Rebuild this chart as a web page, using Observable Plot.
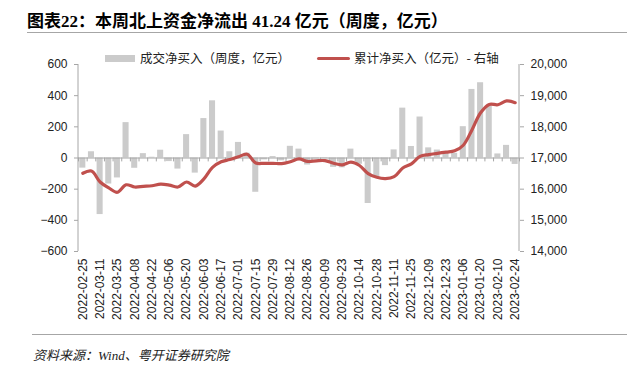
<!DOCTYPE html>
<html><head><meta charset="utf-8">
<script src="https://cdn.jsdelivr.net/npm/d3@7"></script>
<script src="https://cdn.jsdelivr.net/npm/@observablehq/plot@0.6"></script>
<style>
body{margin:0;background:#fff;}
#wrap{position:relative;width:627px;height:367px;overflow:hidden;background:#fff;font-family:Arial,"Liberation Sans","Noto Sans CJK SC",sans-serif;}
#title{position:absolute;left:27px;top:7px;font-family:"Liberation Serif","Noto Sans CJK SC",serif;font-weight:bold;font-size:17px;color:#000;white-space:nowrap;}
#rule1{position:absolute;left:27px;right:0;top:32px;border-top:1px solid #a6a6a6;}
#rule2{position:absolute;left:32px;right:0;top:334px;border-top:1px solid #a6a6a6;}
#source{position:absolute;left:33px;top:345px;font-family:"Liberation Serif","Noto Sans CJK SC",serif;font-style:italic;font-size:13px;color:#222;white-space:nowrap;}
.leg{position:absolute;top:50px;font-family:"Noto Sans CJK SC",sans-serif;font-size:12.5px;color:#222;white-space:nowrap;line-height:16px;}
.sw{position:absolute;}
#chart{position:absolute;left:0;top:40px;}
</style></head>
<body><div id="wrap">
<div id="title">图表22：本周北上资金净流出 41.24 亿元（周度，亿元）</div>
<div id="rule1"></div>
<div class="sw" style="left:105px;top:55px;width:30px;height:7px;background:#cbcbcb"></div>
<div class="leg" style="left:140px">成交净买入（周度，亿元）</div>
<div class="sw" style="left:317px;top:57px;width:33px;height:3px;background:#C0504D;border-radius:2px"></div>
<div class="leg" style="left:354px">累计净买入（亿元）- 右轴</div>
<div id="chart"></div>
<div id="rule2"></div>
<div id="source">资料来源：Wind、粤开证券研究院</div>
</div>
<script>
const dates = ["2022-02-25","2022-03-04","2022-03-11","2022-03-18","2022-03-25","2022-04-01","2022-04-08","2022-04-15","2022-04-22","2022-04-29","2022-05-06","2022-05-13","2022-05-20","2022-05-27","2022-06-03","2022-06-10","2022-06-17","2022-06-24","2022-07-01","2022-07-08","2022-07-15","2022-07-22","2022-07-29","2022-08-05","2022-08-12","2022-08-19","2022-08-26","2022-09-02","2022-09-09","2022-09-16","2022-09-23","2022-09-30","2022-10-14","2022-10-21","2022-10-28","2022-11-04","2022-11-11","2022-11-18","2022-11-25","2022-12-02","2022-12-09","2022-12-16","2022-12-23","2022-12-30","2023-01-06","2023-01-13","2023-01-20","2023-02-03","2023-02-10","2023-02-17","2023-02-24"];
const weeklyNetBuy = [-65,40,-363,-167,-128,227,-66,28,5,50,-23,-71,150,-97,253,367,173,40,100,31,-220,-12,9,-18,75,57,-45,-6,-4,-60,-63,57,-40,-292,-124,-49,52,320,74,263,65,51,36,30,201,440,483,335,26,81,-41.24];
const cumulativeNetBuy = [16510,16580,16230,16040,15900,16140,16070,16090,16110,16160,16130,16070,16230,16100,16330,16700,16880,16950,17040,17120,16840,16830,16830,16820,16880,16970,16890,16910,16915,16830,16780,16870,16760,16500,16380,16340,16400,16680,16810,17050,17110,17150,17190,17230,17410,17900,18450,18720,18710,18830,18775];
const leftTicks = [-600,-400,-200,0,200,400,600];
const rightTicks = [14000,15000,16000,17000,18000,19000,20000];
const xTickLabels = dates.filter((d,i) => i % 2 === 0);

const W = 627, H = 290, ML = 78, MR = 108, MT = 24, MB = 79;
const padIn = 0.3;
const step = (W - ML - MR) / dates.length;
// right axis mapping: 17000 at 0, 1000 per 200 on left scale
const toLeft = v => (v - 17000) / 5;
const fromLeft = v => 17000 + v * 5;

const rows = dates.map((d,i) => ({date:d, net:weeklyNetBuy[i], cum:toLeft(cumulativeNetBuy[i])}));
const fmt = d3.format(",");
const axisColor = "#a6a6a6";

const chart = Plot.plot({
  width: W, height: H,
  marginLeft: ML, marginRight: MR, marginTop: MT, marginBottom: MB,
  style: {fontFamily: "Arial, 'Liberation Sans', sans-serif", fontSize: "12px", color: "#222", background: "transparent"},
  x: {type: "band", domain: dates, paddingInner: padIn, paddingOuter: padIn/2, label: null},
  y: {domain: [-600, 600], label: null},
  marks: [
    Plot.barY(rows, {x: "date", y: "net", fill: "#cbcbcb"}),
    Plot.ruleY([0], {stroke: axisColor}),
    Plot.ruleX(dates, {x: d => d, y1: 0, y2: -25, dx: -step/2, stroke: axisColor}),
    Plot.ruleX([dates[dates.length-1]], {x: d => d, y1: 0, y2: -25, dx: step/2, stroke: axisColor}),
    Plot.line(rows, {x: "date", y: "cum", stroke: "#C0504D", strokeWidth: 3.2, curve: "catmull-rom"}),
    Plot.axisY({anchor: "left", ticks: leftTicks, tickSize: 4, tickPadding: 7, stroke: axisColor, fill: "#222"}),
    Plot.axisY({anchor: "right", ticks: rightTicks.map(toLeft), tickFormat: d => fmt(fromLeft(d)), tickSize: 4, tickPadding: 7, stroke: axisColor, fill: "#222"}),
    Plot.axisX({anchor: "bottom", ticks: xTickLabels, tickSize: 0, tickPadding: 7, tickRotate: -90, fill: "#222"})
  ]
});
document.getElementById("chart").appendChild(chart);
const svg = d3.select(chart);
svg.append("line").attr("x1", ML).attr("x2", ML).attr("y1", MT).attr("y2", H - MB).attr("stroke", axisColor);
svg.append("line").attr("x1", W - MR).attr("x2", W - MR).attr("y1", MT).attr("y2", H - MB).attr("stroke", axisColor);
</script>
</body></html>
